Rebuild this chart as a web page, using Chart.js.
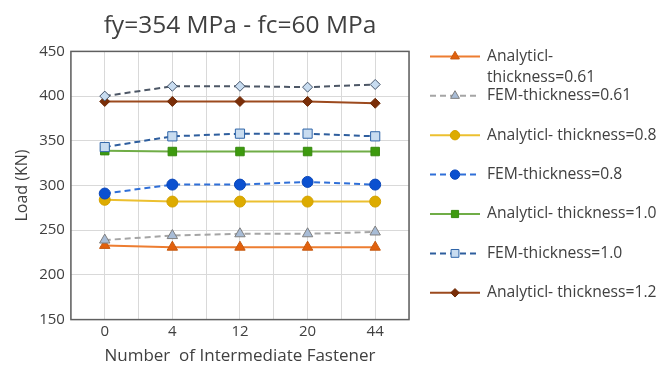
<!DOCTYPE html>
<html>
<head>
<meta charset="utf-8">
<script src="https://cdn.jsdelivr.net/npm/chart.js@4/dist/chart.umd.min.js"></script>
<style>
  html, body { margin: 0; padding: 0; background: #ffffff; }
  canvas { display: block; }
</style>
</head>
<body>
<canvas id="chart" width="671" height="374"></canvas>
<script>
// Number of intermediate fasteners (category axis)
const fasteners = ['0', '4', '12', '20', '44'];

// Load (KN) per series
const analytic061 = [233, 231, 231, 231, 231];
const fem061      = [239, 244, 246, 246, 248];
const analytic08  = [284, 282, 282, 282, 282];
const fem08       = [291, 301, 301, 304, 301];
const analytic10  = [339, 338, 338, 338, 338];
const fem10       = [343, 355, 358, 358, 355];
const analytic12  = [394, 394, 394, 394, 392];
const fem12       = [400, 411, 411, 410, 413];

const seriesNames = [
  'Analyticl- thickness=0.61',
  'FEM-thickness=0.61',
  'Analyticl- thickness=0.8',
  'FEM-thickness=0.8',
  'Analyticl- thickness=1.0',
  'FEM-thickness=1.0',
  'Analyticl- thickness=1.2',
  'FEM-thickness=1.2'
];

// Load axis range
const loadMin = 150;
const loadMax = 450;
const loadStep = 50;

const FONT = '"Open Sans", "Liberation Sans", sans-serif';
const TEXT = '#404040';
const GRID = '#d9d9d9';
const DASH = [6, 4];

function series(i, values, style) {
  return Object.assign({
    label: seriesNames[i],
    data: values,
    borderWidth: 2,
    tension: 0,
    pointBorderWidth: 1,
    pointHoverRadius: style.pointRadius,
    order: seriesNames.length - i,
    fill: false
  }, style);
}

const datasets = [
  series(0, analytic061, { borderColor: '#ed7d31', pointStyle: 'triangle', pointRadius: 6,
    pointBackgroundColor: '#e2600c', pointBorderColor: '#c55a11' }),
  series(1, fem061, { borderColor: '#a5a5a5', borderDash: DASH, pointStyle: 'triangle', pointRadius: 6,
    pointBackgroundColor: '#a8bcd6', pointBorderColor: '#7f7f7f' }),
  series(2, analytic08, { borderColor: '#ecc030', pointStyle: 'circle', pointRadius: 5.5,
    pointBackgroundColor: '#ddab00', pointBorderColor: '#d4a200' }),
  series(3, fem08, { borderColor: '#2f6fd8', borderDash: DASH, pointStyle: 'circle', pointRadius: 5.5,
    pointBackgroundColor: '#0b50d0', pointBorderColor: '#0a46b8' }),
  series(4, analytic10, { borderColor: '#70ad47', pointStyle: 'rect', pointRadius: 6,
    pointBackgroundColor: '#3d9a0e', pointBorderColor: '#388a10' }),
  series(5, fem10, { borderColor: '#2e5e9e', borderDash: DASH, pointStyle: 'rect', pointRadius: 6.5,
    pointBackgroundColor: '#c8dcf0', pointBorderColor: '#2e64a8' }),
  series(6, analytic12, { borderColor: '#9c4a1e', pointStyle: 'rectRot', pointRadius: 5,
    pointBackgroundColor: '#7a2e08', pointBorderColor: '#6e2a06' }),
  series(7, fem12, { borderColor: '#4d5766', borderDash: DASH, pointStyle: 'rectRot', pointRadius: 5,
    pointBackgroundColor: '#c8dcf0', pointBorderColor: '#44546a', inLegend: false })
];

// Dark frame around the plotting area
const plotFrame = {
  id: 'plotFrame',
  beforeDatasetsDraw(chart) {
    const { ctx, chartArea: a } = chart;
    ctx.save();
    ctx.strokeStyle = '#5f5f5f';
    ctx.lineWidth = 1.5;
    ctx.strokeRect(a.left, a.top, a.right - a.left, a.bottom - a.top);
    ctx.restore();
  }
};

// Split a label into lines that fit a given width
function wrapText(ctx, text, maxWidth) {
  if (ctx.measureText(text).width <= maxWidth) return [text];
  const words = text.split(' ');
  const lines = [];
  let line = '';
  words.forEach(w => {
    const test = line ? line + ' ' + w : w;
    if (line && ctx.measureText(test).width > maxWidth) {
      lines.push(line);
      line = w;
    } else {
      line = test;
    }
  });
  if (line) lines.push(line);
  return lines;
}

// Legend on the right: line sample with marker, then the series name
const sideLegend = {
  id: 'sideLegend',
  afterDraw(chart) {
    const ctx = chart.ctx;
    const x0 = chart.chartArea.right + 21;
    const sampleW = 50;
    const textX = x0 + sampleW + 7;
    let y = chart.chartArea.top + 5;
    ctx.save();
    ctx.font = '15.7px ' + FONT;
    ctx.textBaseline = 'middle';
    chart.data.datasets.forEach(ds => {
      if (ds.inLegend === false) return;
      ctx.strokeStyle = ds.borderColor;
      ctx.lineWidth = ds.borderWidth;
      ctx.setLineDash(ds.borderDash || []);
      ctx.beginPath();
      ctx.moveTo(x0, y);
      ctx.lineTo(x0 + sampleW, y);
      ctx.stroke();
      ctx.setLineDash([]);
      ctx.fillStyle = ds.pointBackgroundColor;
      ctx.strokeStyle = ds.pointBorderColor;
      ctx.lineWidth = 1;
      Chart.helpers.drawPoint(ctx, {
        pointStyle: ds.pointStyle,
        radius: ds.pointRadius * 0.85,
        borderWidth: 1,
        rotation: 0
      }, x0 + sampleW / 2, y);
      ctx.fillStyle = TEXT;
      const lines = wrapText(ctx, ds.label, 175);
      lines.forEach((ln, i) => ctx.fillText(ln, textX, y + i * 21));
      y += 39.4;
    });
    ctx.restore();
  }
};

new Chart(document.getElementById('chart'), {
  type: 'line',
  data: { labels: fasteners, datasets },
  options: {
    responsive: false,
    animation: false,
    layout: { padding: { left: 6, right: 262, top: 0, bottom: 2 } },
    plugins: {
      legend: { display: false },
      tooltip: { enabled: false },
      title: {
        display: true,
        text: 'fy=354 MPa - fc=60 MPa',
        fullSize: false,
        color: TEXT,
        font: { family: FONT, size: 24.5, weight: 'normal', lineHeight: 1.2 },
        padding: { top: 11, bottom: 11 }
      }
    },
    scales: {
      x: {
        type: 'category',
        offset: true,
        grid: { color: GRID, offset: false, drawTicks: false },
        border: { display: false },
        ticks: { color: TEXT, padding: 3, font: { family: FONT, size: 15 } },
        title: {
          display: true,
          text: 'Number  of Intermediate Fastener',
          color: TEXT,
          font: { family: FONT, size: 17, lineHeight: 1.2 },
          padding: { top: 2, bottom: 6 }
        }
      },
      xEdges: {
        type: 'category',
        position: 'top',
        offset: true,
        grid: { color: GRID, offset: true, drawTicks: false },
        border: { display: false },
        ticks: { display: false }
      },
      y: {
        min: loadMin,
        max: loadMax,
        ticks: { stepSize: loadStep, color: TEXT, padding: 6, font: { family: FONT, size: 15 } },
        grid: { color: GRID, drawTicks: false },
        border: { display: false },
        title: {
          display: true,
          text: 'Load (KN)',
          color: TEXT,
          font: { family: FONT, size: 16, lineHeight: 1.2 },
          padding: { top: 7, bottom: 1 }
        }
      }
    }
  },
  plugins: [plotFrame, sideLegend]
});
</script>
</body>
</html>
